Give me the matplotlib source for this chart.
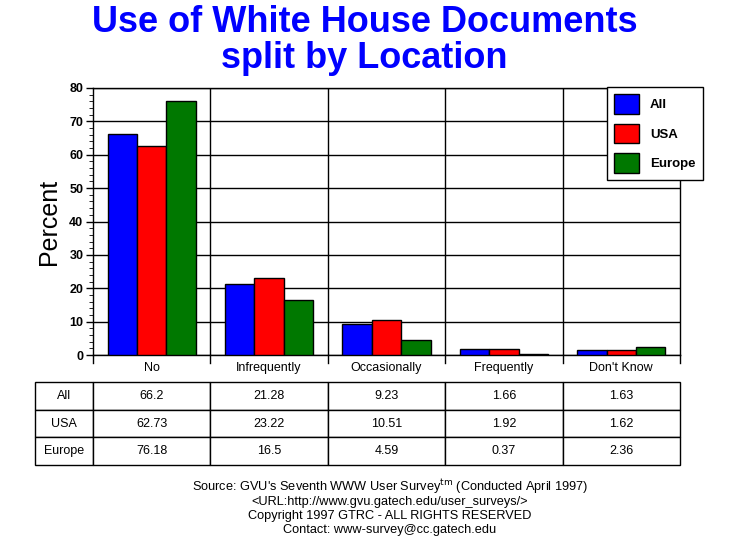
import matplotlib.pyplot as plt
import numpy as np

plt.rcParams['font.family'] = ['Liberation Sans', 'DejaVu Sans']

categories = ['No', 'Infrequently', 'Occasionally', 'Frequently', "Don't Know"]
series_names = ['All', 'USA', 'Europe']
all_vals = [66.2, 21.28, 9.23, 1.66, 1.63]
usa_vals = [62.73, 23.22, 10.51, 1.92, 1.62]
europe_vals = [76.18, 16.5, 4.59, 0.37, 2.36]
colors = ['#0000ff', '#ff0000', '#007800']

fig = plt.figure(figsize=(7.29, 5.53), dpi=100)
ax = fig.add_axes([93/729, 1-355/553, 587/729, 267/553])

x = np.arange(len(categories))
w = 0.25
data = [all_vals, usa_vals, europe_vals]
for i, vals in enumerate(data):
    ax.bar(x + (i-1)*w, vals, w, color=colors[i], edgecolor='black', linewidth=1,
           label=series_names[i], zorder=3)

ax.set_xlim(-0.5, len(categories)-0.5)
ax.set_ylim(0, 80)
ax.set_yticks(range(0, 81, 10))
ax.set_yticks(range(0, 81, 2), minor=True)
ax.yaxis.grid(True, color='black', linewidth=1, zorder=0)
for b in np.arange(0.5, len(categories)-0.5, 1):
    ax.axvline(b, color='black', linewidth=1, zorder=0)
ax.set_xticks(x)
ax.set_xticklabels(categories, fontsize=9)
ax.tick_params(axis='x', length=0, pad=5)
ax.tick_params(axis='y', labelsize=9, length=5, width=1, pad=2)
ax.tick_params(axis='y', which='minor', length=3)
for lab in ax.get_yticklabels():
    lab.set_fontweight('bold')
for s in ax.spines.values():
    s.set_linewidth(1)
ax.set_ylabel('Percent', fontsize=18, labelpad=6)

# small ticks below the axis at category boundaries
for b in np.arange(-0.5, len(categories), 1):
    ax.plot([b, b], [0, -2.5], color='black', linewidth=1, clip_on=False)

leg = ax.legend(loc='upper left', bbox_to_anchor=(607/729, 1-87/553),
                bbox_transform=fig.transFigure, prop={'size': 9.5, 'weight': 'bold'},
                frameon=True, fancybox=False, shadow=False, edgecolor='black',
                handlelength=1.9, handleheight=1.9, labelspacing=0.75, borderpad=0.55,
                handletextpad=0.8, borderaxespad=0)
leg.get_frame().set_linewidth(1)
leg.get_frame().set_alpha(1)

cell_text = [[f'{v:g}' for v in vals] for vals in data]
tbl = ax.table(cellText=[[n] + row for n, row in zip(series_names, cell_text)],
               cellLoc='center',
               colWidths=[58/645] + [117.4/645]*5,
               bbox=[(35-93)/587, (355-465)/267, 645/587, 83/267])
tbl.auto_set_font_size(False)
tbl.set_fontsize(9)
for c in tbl.get_celld().values():
    c.set_linewidth(1)

fig.text(0.5, 1-22/553, 'Use of White House Documents', ha='center', va='center',
         fontsize=26, fontweight='bold', color='#0000ff')
fig.text(0.5, 1-58/553, 'split by Location', ha='center', va='center',
         fontsize=26, fontweight='bold', color='#0000ff')

footer = ["Source: GVU's Seventh WWW User Survey$^{\\rm tm}$ (Conducted April 1997)",
          '<URL:http://www.gvu.gatech.edu/user_surveys/>',
          'Copyright 1997 GTRC - ALL RIGHTS RESERVED',
          'Contact: www-survey@cc.gatech.edu']
for i, line in enumerate(footer):
    fig.text(390/729, 1-(487+14.5*i)/553, line, ha='center', va='center', fontsize=9.2)

fig.savefig('out.png', dpi=100)
